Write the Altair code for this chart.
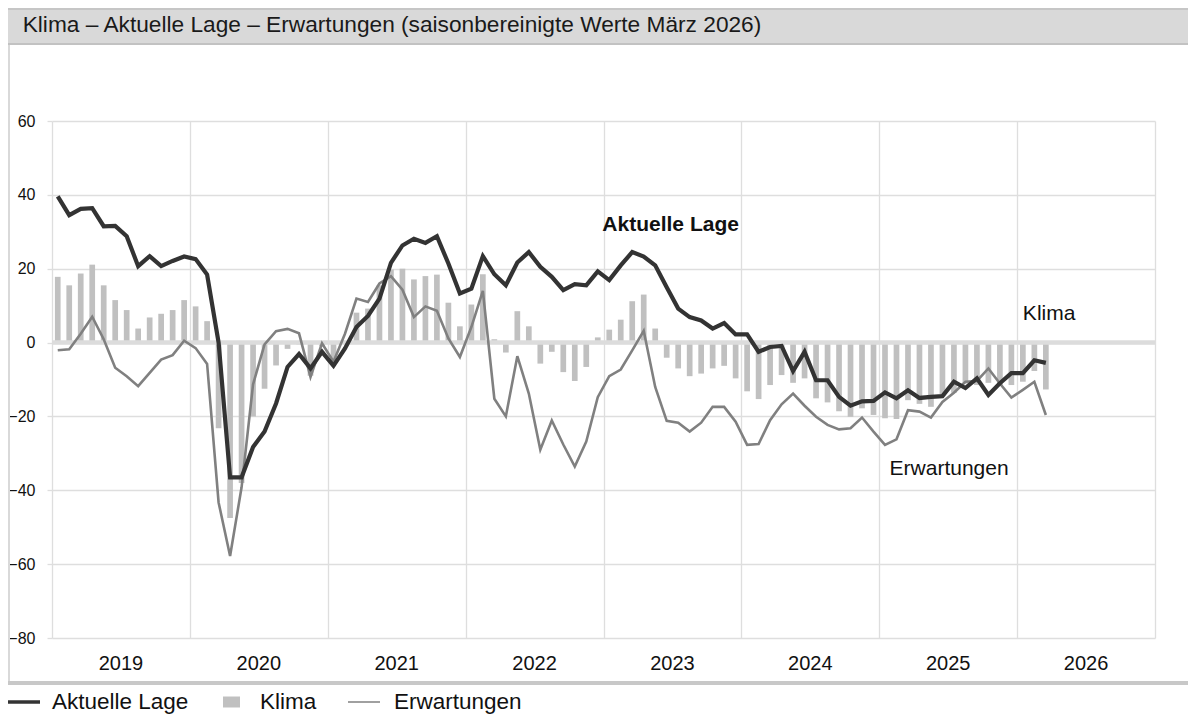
import altair as alt
import pandas as pd

# ---------------- data (monthly, Jan 2019 - Mar 2026) ----------------
lage = [39.6, 34.5, 36.2, 36.4, 31.5, 31.6, 28.8, 20.7, 23.4, 20.7, 22.1, 23.3,
        22.6, 18.4, 0.0, -36.5, -36.5, -28.3, -24.1, -16.5, -6.6, -3.1, -7.0, -2.5,
        -6.3, -1.6, 4.2, 7.2, 11.9, 21.6, 26.3, 28.1, 27.0, 28.8, 21.4, 13.3,
        14.6, 23.4, 18.5, 15.5, 21.7, 24.5, 20.5, 17.8, 14.2, 15.8, 15.5, 19.3,
        16.9, 20.9, 24.5, 23.3, 20.9, 15.0, 9.2, 6.9, 6.0, 3.8, 5.3, 2.2,
        2.2, -2.5, -1.2, -0.9, -7.7, -2.5, -10.2, -10.2, -14.7, -17.1, -15.9, -15.8,
        -13.5, -15.1, -12.9, -15.0, -14.7, -14.5, -10.6, -12.3, -9.7, -14.2, -11.0, -8.3,
        -8.3, -4.8, -5.5]
erwartungen = [-2.1, -1.8, 2.4, 7.0, 0.9, -6.8, -9.1, -11.8, -8.2, -4.6, -3.4, 0.5,
               -1.5, -5.8, -43.3, -57.8, -39.2, -11.3, -0.5, 3.1, 3.7, 2.5, -9.3, -0.2,
               -5.2, 2.4, 11.9, 11.0, 16.0, 18.0, 14.3, 6.9, 9.8, 8.6, 1.1, -3.9,
               4.2, 14.0, -15.2, -20.0, -3.7, -13.8, -29.0, -21.1, -27.6, -33.6, -26.8, -14.8,
               -9.1, -7.3, -2.1, 3.2, -12.0, -21.2, -21.7, -24.1, -21.7, -17.4, -17.4, -21.4,
               -27.7, -27.5, -21.0, -16.7, -13.8, -17.1, -20.1, -22.3, -23.5, -23.2, -20.3, -24.1,
               -27.7, -26.2, -18.3, -18.7, -20.3, -16.1, -13.6, -10.6, -10.4, -7.0, -11.1, -14.9,
               -12.8, -10.6, -19.6]
klima = [17.8, 15.5, 18.7, 21.1, 15.5, 11.5, 8.8, 3.8, 6.8, 7.8, 8.8, 11.5,
         9.8, 5.8, -23.2, -47.5, -38.0, -20.0, -12.5, -6.2, -1.7, -0.5, -9.0, -1.0,
         -5.2, 0.3, 8.1, 9.2, 15.5, 19.8, 20.0, 17.1, 18.0, 18.4, 10.8, 4.4,
         10.3, 18.5, 0.9, -2.7, 8.5, 4.4, -5.7, -2.5, -8.0, -10.4, -6.6, 1.4,
         3.5, 6.2, 11.2, 13.0, 3.8, -4.1, -7.0, -9.1, -8.4, -7.0, -6.3, -9.7,
         -13.2, -15.3, -11.5, -8.8, -10.9, -9.7, -15.1, -16.2, -18.6, -20.1, -17.8, -19.6,
         -20.5, -20.7, -15.6, -16.6, -17.4, -14.5, -13.6, -11.1, -11.5, -10.9, -11.5, -11.5,
         -10.6, -7.7, -12.7]

years = ["2019", "2020", "2021", "2022", "2023", "2024", "2025", "2026"]
y_ticks = [-80, -60, -40, -20, 0, 20, 40, 60]
series_names = ["Aktuelle Lage", "Klima", "Erwartungen"]
title_text = "Klima – Aktuelle Lage – Erwartungen (saisonbereinigte Werte März 2026)"

annot_text = ["Aktuelle Lage", "Klima", "Erwartungen"]
annot_month = [47.9, 84.5, 72.9]
annot_value = [30.2, 6.0, -35.9]

# ---------------- frames ----------------
n = len(lage)
months = [i + 0.5 for i in range(n)]
df_lage = pd.DataFrame({"m": months, "v": lage})
df_erw = pd.DataFrame({"m": months, "v": erwartungen})
df_klima = pd.DataFrame({"m": months, "v": klima})
df_years = pd.DataFrame({"m": [k * 12 + 6 for k in range(len(years))], "label": years})
df_zero = pd.DataFrame({"v": [0]})
df_annot_b = pd.DataFrame({"m": annot_month[:1], "v": annot_value[:1], "label": annot_text[:1]})
df_annot_n = pd.DataFrame({"m": annot_month[1:], "v": annot_value[1:], "label": annot_text[1:]})
one = alt.Data(values=[{"a": 1}])

# ---------------- style ----------------
W, H = 1103, 517
PAD = {"left": 44, "top": 113, "right": 33, "bottom": 76}
FONT = "Liberation Sans"
GRID = "#dedede"
TXT = "#111111"

xscale = alt.Scale(domain=[0, 96], nice=False, zero=False, padding=0)
yscale = alt.Scale(domain=[-80, 60], nice=False, zero=False, padding=0)
x_enc = alt.X("m:Q", scale=xscale,
              axis=alt.Axis(values=list(range(0, 97, 12)), grid=True, labels=False,
                            ticks=False, domain=False, title=None,
                            gridColor=GRID, gridWidth=1.3))
y_enc = alt.Y("v:Q", scale=yscale,
              axis=alt.Axis(values=y_ticks, grid=True, gridColor=GRID, gridWidth=1.3,
                            domain=False, ticks=True, tickColor=GRID, tickSize=5,
                            tickWidth=1.3, labelPadding=12, labelFontSize=16,
                            labelFont=FONT, labelColor=TXT, title=None))

bars = alt.Chart(df_klima).mark_bar(size=5.7, color="#c0c0c0").encode(
    x=x_enc, y=y_enc, y2=alt.Y2(datum=0))
zero = alt.Chart(df_zero).mark_rule(color="#dcdcdc", strokeWidth=4.5).encode(y=y_enc)
line_erw = alt.Chart(df_erw).mark_line(color="#808080", strokeWidth=2.6).encode(x=x_enc, y=y_enc)
line_lage = alt.Chart(df_lage).mark_line(color="#333333", strokeWidth=4.2).encode(x=x_enc, y=y_enc)

year_labels = alt.Chart(df_years).mark_text(
    font=FONT, fontSize=20, color=TXT, align="center", baseline="alphabetic"
).encode(x=x_enc, y=alt.value(H + 32), text="label:N")

annot_b = alt.Chart(df_annot_b).mark_text(
    font=FONT, fontSize=21, fontWeight="bold", color=TXT, align="left", baseline="alphabetic"
).encode(x=x_enc, y=y_enc, text="label:N")
annot_n = alt.Chart(df_annot_n).mark_text(
    font=FONT, fontSize=21, color=TXT, align="left", baseline="alphabetic"
).encode(x=x_enc, y=y_enc, text="label:N")

# ---------------- frame / header ----------------
L = -PAD["left"]
R = W + PAD["right"]
T = -PAD["top"]
header = alt.Chart(one).mark_rect(color="#d9d9d9").encode(
    x=alt.value(L), x2=alt.value(R), y=alt.value(T), y2=alt.value(T + 36))
header_top = alt.Chart(one).mark_rect(color="#c6c6c6").encode(
    x=alt.value(L), x2=alt.value(R), y=alt.value(T), y2=alt.value(T + 2))
header_bot = alt.Chart(one).mark_rect(color="#c2c2c2").encode(
    x=alt.value(L), x2=alt.value(R), y=alt.value(T + 35), y2=alt.value(T + 37))
title = alt.Chart(one).mark_text(
    font=FONT, fontSize=22.7, color="#1a1a1a", align="left", baseline="alphabetic"
).encode(x=alt.value(L + 14.7), y=alt.value(T + 24.3), text=alt.value(title_text))
left_border = alt.Chart(one).mark_rect(color="#d9d9d9").encode(
    x=alt.value(L), x2=alt.value(L + 2), y=alt.value(T + 37), y2=alt.value(H + 46))
bottom_border = alt.Chart(one).mark_rect(color="#c8c8c8").encode(
    x=alt.value(L), x2=alt.value(R), y=alt.value(H + 43), y2=alt.value(H + 47))

# ---------------- legend ----------------
LY = H + 64
leg_lage = alt.Chart(one).mark_rule(color="#333333", strokeWidth=3.5).encode(
    x=alt.value(L), x2=alt.value(L + 32), y=alt.value(LY))
leg_lage_t = alt.Chart(one).mark_text(font=FONT, fontSize=22.5, color=TXT, align="left",
                                      baseline="middle").encode(
    x=alt.value(0), y=alt.value(LY), text=alt.value(series_names[0]))
leg_klima = alt.Chart(one).mark_rect(color="#c0c0c0").encode(
    x=alt.value(171), x2=alt.value(188), y=alt.value(LY - 5.5), y2=alt.value(LY + 5.5))
leg_klima_t = alt.Chart(one).mark_text(font=FONT, fontSize=22.5, color=TXT, align="left",
                                       baseline="middle").encode(
    x=alt.value(208), y=alt.value(LY), text=alt.value(series_names[1]))
leg_erw = alt.Chart(one).mark_rule(color="#808080", strokeWidth=1.5).encode(
    x=alt.value(296), x2=alt.value(328), y=alt.value(LY))
leg_erw_t = alt.Chart(one).mark_text(font=FONT, fontSize=22.5, color=TXT, align="left",
                                     baseline="middle").encode(
    x=alt.value(342), y=alt.value(LY), text=alt.value(series_names[2]))

chart = alt.layer(
    header, header_top, header_bot, title, left_border, bottom_border,
    bars, zero, line_erw, line_lage, year_labels, annot_b, annot_n,
    leg_lage, leg_lage_t, leg_klima, leg_klima_t, leg_erw, leg_erw_t,
).properties(
    width=W, height=H,
    autosize=alt.AutoSizeParams(type="none"),
    padding=PAD,
    background="white",
).configure_view(stroke=None)

chart.save("out.html", embed_options={"renderer": "svg", "actions": False})
